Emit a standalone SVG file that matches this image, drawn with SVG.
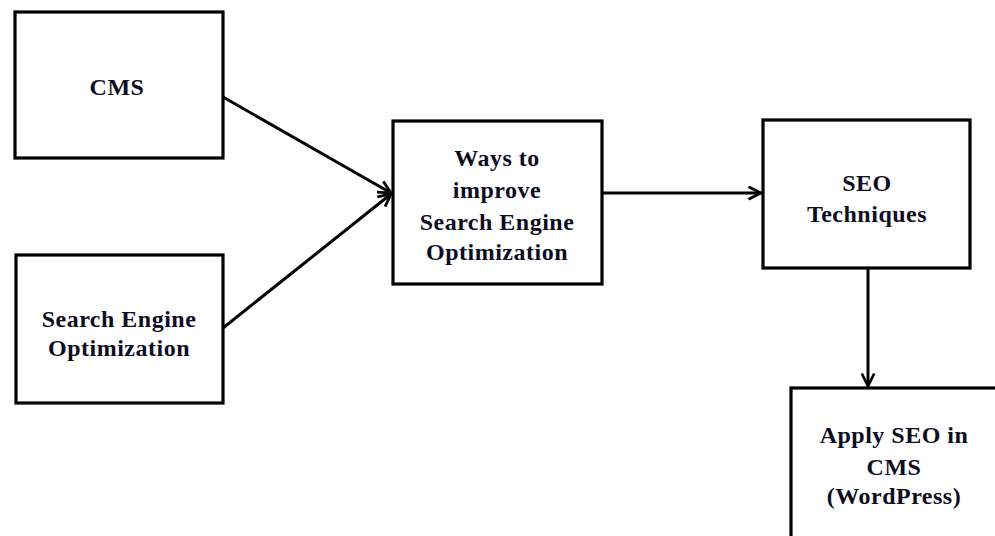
<svg xmlns="http://www.w3.org/2000/svg" width="995" height="536" viewBox="0 0 995 536">
<style>
.box{fill:#fff;stroke:#000;stroke-width:3.2}
.lbl{font-family:"Liberation Serif","Times New Roman",serif;font-weight:bold;font-size:24px;letter-spacing:0.5px;fill:#0d0d1f;text-anchor:middle}
.conn{stroke:#000;stroke-width:3;fill:none;marker-end:url(#arr)}
</style>
<defs>
<marker id="arr" viewBox="0 0 12 12" refX="11" refY="6" markerWidth="5" markerHeight="5" markerUnits="strokeWidth" orient="auto">
<path d="M1,1 L11,6 L1,11" fill="none" stroke="#000" stroke-width="2.2"/>
</marker>
</defs>
<g id="connectors">
<line class="conn" x1="223" y1="97" x2="391" y2="193"/>
<line class="conn" x1="223" y1="328" x2="391" y2="194"/>
<line class="conn" x1="602" y1="193" x2="761" y2="193"/>
<line class="conn" x1="868" y1="268" x2="868" y2="386"/>
</g>
<g id="cms">
<rect class="box" x="15" y="12" width="208" height="146"/>
<text class="lbl" x="117" y="95">CMS</text>
</g>
<g id="seo">
<rect class="box" x="16" y="255" width="207" height="148"/>
<text class="lbl" x="119" y="327">Search Engine</text>
<text class="lbl" x="119" y="356">Optimization</text>
</g>
<g id="ways">
<rect class="box" x="393" y="121" width="209" height="163"/>
<text class="lbl" x="497" y="166">Ways to</text>
<text class="lbl" x="497" y="198">improve</text>
<text class="lbl" x="497" y="230">Search Engine</text>
<text class="lbl" x="497" y="260">Optimization</text>
</g>
<g id="seotech">
<rect class="box" x="763" y="120" width="207" height="148"/>
<text class="lbl" x="867" y="191">SEO</text>
<text class="lbl" x="867" y="222">Techniques</text>
</g>
<g id="apply">
<rect class="box" x="791" y="388" width="206" height="152"/>
<text class="lbl" x="894" y="443">Apply SEO in</text>
<text class="lbl" x="894" y="475">CMS</text>
<text class="lbl" x="894" y="504">(WordPress)</text>
</g>
</svg>
